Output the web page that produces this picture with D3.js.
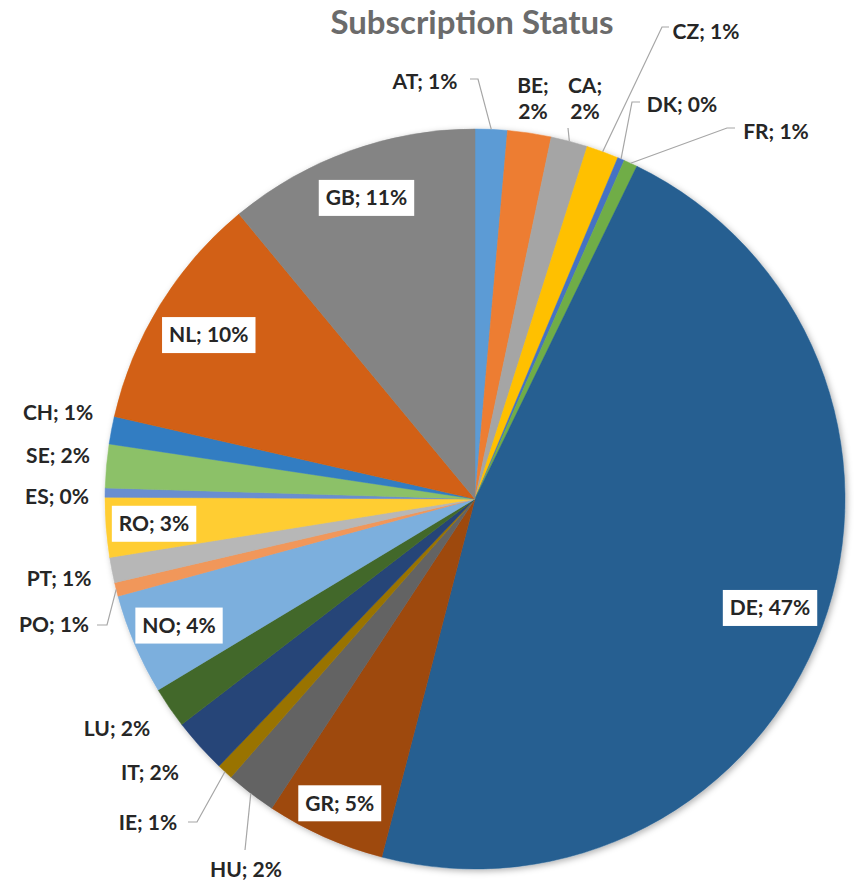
<!DOCTYPE html>
<html>
<head>
<meta charset="utf-8">
<script src="https://cdn.jsdelivr.net/npm/d3@7"></script>
<style>
  body { margin: 0; background: #fff; }
  svg { display: block; font-family: Lato, "Open Sans", sans-serif; }
</style>
</head>
<body>
<div id="chart"></div>
<script>
// data (share of subscriptions, %)
const countries = ["AT","BE","CA","CZ","DK","FR","DE","GR","HU","IE","IT","LU","NO","PO","PT","RO","ES","SE","CH","NL","GB"];
const shares    = [1.4, 1.9, 1.6, 1.4, 0.3, 0.6, 46.8, 5.2, 2.2, 0.7, 2.4, 1.8, 4.4, 0.6, 1.1, 2.6, 0.4, 1.9, 1.2, 10.4, 11.0];
const colors    = ["#5B9BD5","#ED7D31","#A5A5A5","#FFC000","#4472C4","#70AD47","#255E91","#9E480E","#636363","#997300",
                   "#264478","#43682B","#7CAFDD","#F1975A","#B7B7B7","#FFCD33","#698ED0","#8CC168","#327DC2","#D26012","#848484"];
const title = "Subscription Status";

// labels drawn inside the slices (white box), with radius factor
const insideLabels = { DE: 0.85, GR: 0.9, NO: 0.87, RO: 0.87, NL: 0.845, GB: 0.865 };
// outside label placement: text centre and optional leader line (elbow point)
const outsideLabels = {
  AT: { x: 425, y: 82,  start: [470, 79], elbow: [478, 79] },
  BE: { x: 533, y: 86,  lines: 2 },
  CA: { x: 585, y: 86,  lines: 2, start: [568, 128], elbow: [568, 128] },
  CZ: { x: 706, y: 32,  start: [669, 27], elbow: [662, 27] },
  DK: { x: 682, y: 105, start: [640, 102], elbow: [632, 102] },
  FR: { x: 776, y: 132, start: [735, 128], elbow: [727, 128] },
  HU: { x: 246, y: 870, start: [245, 850], elbow: [245, 850] },
  IE: { x: 148, y: 823, start: [188, 822], elbow: [197, 822] },
  IT: { x: 150, y: 773 },
  LU: { x: 117, y: 729 },
  PO: { x: 54,  y: 625, start: [97, 625], elbow: [107, 625] },
  PT: { x: 59,  y: 579 },
  ES: { x: 57,  y: 497 },
  SE: { x: 58,  y: 456 },
  CH: { x: 58,  y: 413 }
};

const width = 854, height = 884;
const cx = 475, cy = 499, radius = 370;

const svg = d3.select("#chart").append("svg")
  .attr("width", width)
  .attr("height", height);

// soft shadow like the office chart
const defs = svg.append("defs");
const f = defs.append("filter").attr("id", "shadow")
  .attr("x", "-10%").attr("y", "-10%").attr("width", "120%").attr("height", "120%");
f.append("feDropShadow")
  .attr("dx", 2).attr("dy", 2).attr("stdDeviation", 3)
  .attr("flood-color", "#000").attr("flood-opacity", 0.3);

svg.append("text")
  .attr("x", 472)
  .attr("y", 34)
  .attr("text-anchor", "middle")
  .attr("font-size", 33)
  .attr("font-weight", 700)
  .attr("fill", "#6b6b6b")
  .text(title);

const data = countries.map((c, i) => ({ name: c, value: shares[i], color: colors[i] }));
const total = d3.sum(shares);

const pie = d3.pie().sort(null).value(d => d.value);
const arcs = pie(data);

const arc = d3.arc().innerRadius(0).outerRadius(radius);
const edgeArc = d3.arc().innerRadius(radius).outerRadius(radius);

const g = svg.append("g").attr("transform", "translate(" + cx + "," + cy + ")");

g.append("g").attr("filter", "url(#shadow)")
  .selectAll("path")
  .data(arcs)
  .enter()
  .append("path")
  .attr("d", arc)
  .attr("fill", d => d.data.color)
  .attr("stroke", d => d.data.color)
  .attr("stroke-width", 0.5);

const labelText = d => d.data.name + "; " + Math.round(d.data.value / total * 100) + "%";

// leader lines
const lines = svg.append("g")
  .attr("fill", "none")
  .attr("stroke", "#a6a6a6")
  .attr("stroke-width", 1.2);

arcs.forEach(d => {
  const o = outsideLabels[d.data.name];
  if (!o || !o.start) return;
  const p = edgeArc.centroid(d);
  const end = [cx + p[0], cy + p[1]];
  lines.append("path")
    .attr("d", d3.line()([o.start, o.elbow, end]));
});

// outside labels
const outG = svg.append("g")
  .attr("font-size", 21)
  .attr("font-weight", 700)
  .attr("fill", "#262626")
  .attr("text-anchor", "middle");

arcs.forEach(d => {
  const o = outsideLabels[d.data.name];
  if (!o) return;
  const t = outG.append("text").attr("x", o.x).attr("y", o.y).attr("dy", "0.35em");
  if (o.lines === 2) {
    t.append("tspan").attr("x", o.x).text(d.data.name + ";");
    t.append("tspan").attr("x", o.x).attr("dy", 26)
      .text(Math.round(d.data.value / total * 100) + "%");
  } else {
    t.text(labelText(d));
  }
});

// inside labels with white boxes
const inG = svg.append("g")
  .attr("font-size", 21)
  .attr("font-weight", 700)
  .attr("fill", "#262626");

arcs.filter(d => d.data.name in insideLabels).forEach(d => {
  const k = insideLabels[d.data.name] * radius;
  const c = d3.arc().innerRadius(k).outerRadius(k).centroid(d);
  const x = cx + c[0], y = cy + c[1];
  const grp = inG.append("g");
  const t = grp.append("text")
    .attr("x", x).attr("y", y).attr("dy", "0.35em")
    .attr("text-anchor", "middle")
    .text(labelText(d));
  const bb = t.node().getBBox();
  grp.insert("rect", "text")
    .attr("x", bb.x - 7)
    .attr("y", y - 18)
    .attr("width", bb.width + 14)
    .attr("height", 36)
    .attr("fill", "#fff");
});
</script>
</body>
</html>
